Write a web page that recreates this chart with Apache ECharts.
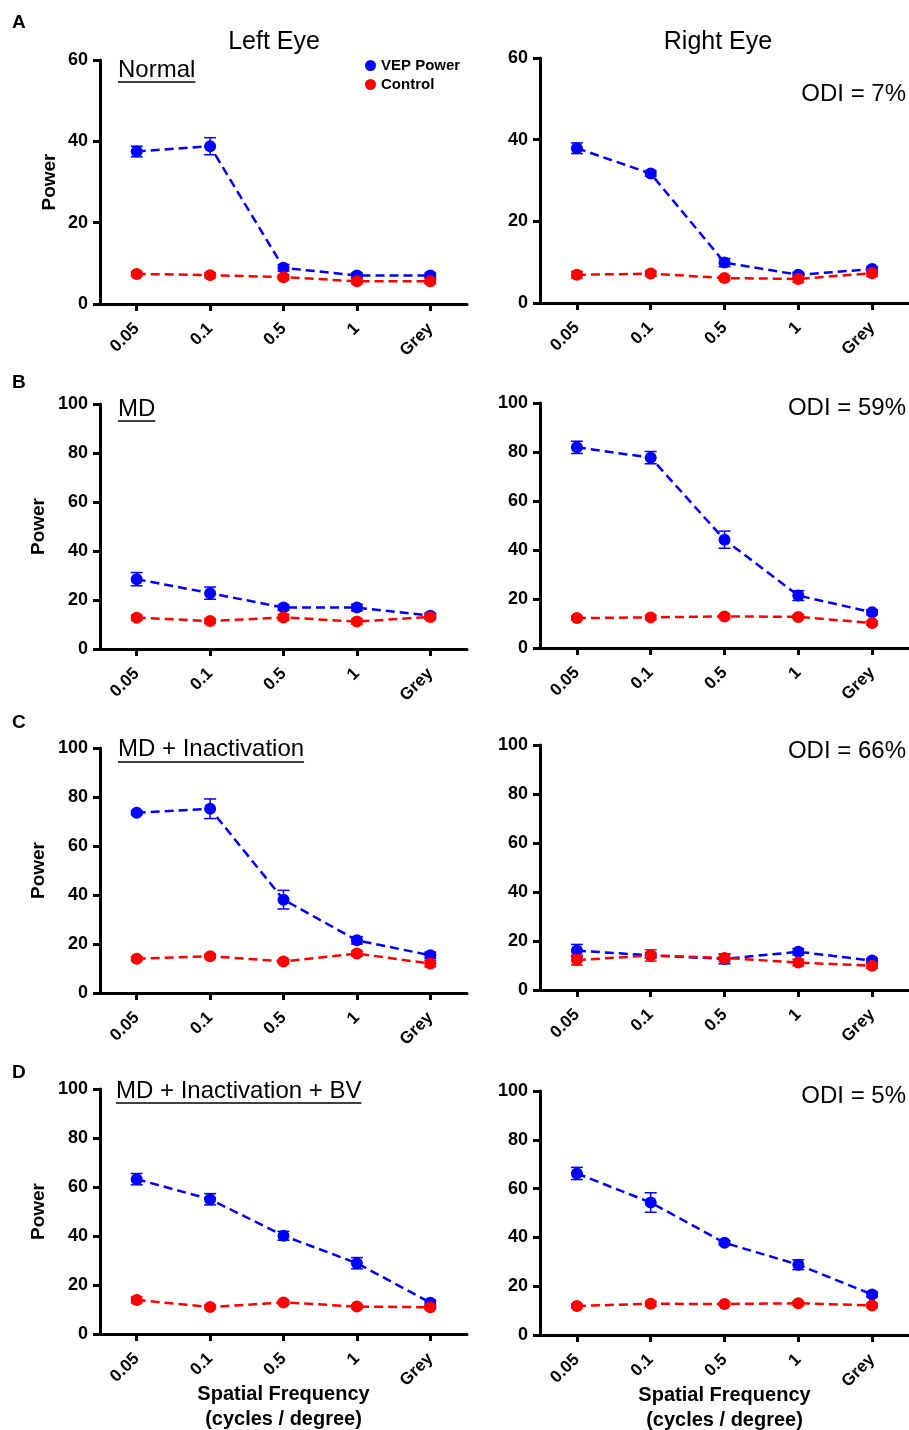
<!DOCTYPE html>
<html>
<head>
<meta charset="utf-8">
<script src="https://cdn.jsdelivr.net/npm/echarts@6/dist/echarts.min.js"></script>
<style>
  html, body { margin: 0; padding: 0; background: #fff; }
  #chart { width: 909px; height: 1430px; }
</style>
</head>
<body>
<div id="chart"></div>
<script>
// Spatial-frequency categories shared by every panel
const categories = ['0.05', '0.1', '0.5', '1', 'Grey'];

// A: Normal
const normalLeftVep      = [37.5, 38.8, 8.9, 7.0, 7.0];
const normalLeftVepErr   = [1.3, 2.1, 0.8, 0.6, 0.6];
const normalLeftCtrl     = [7.4, 7.1, 6.6, 5.6, 5.6];
const normalLeftCtrlErr  = [0.6, 0.6, 0.6, 0.6, 0.6];
const normalRightVep     = [37.9, 31.7, 9.9, 6.9, 8.3];
const normalRightVepErr  = [1.3, 0.6, 1.0, 0.6, 0.6];
const normalRightCtrl    = [6.9, 7.2, 6.1, 5.9, 7.3];
const normalRightCtrlErr = [0.8, 0.6, 0.6, 0.8, 0.8];

// B: MD
const mdLeftVep      = [28.5, 22.8, 16.9, 16.9, 13.6];
const mdLeftVepErr   = [2.7, 2.5, 1.0, 1.3, 1.0];
const mdLeftCtrl     = [12.8, 11.4, 12.9, 11.2, 13.1];
const mdLeftCtrlErr  = [1.0, 1.0, 1.2, 1.0, 1.0];
const mdRightVep     = [81.9, 77.7, 44.2, 21.4, 14.6];
const mdRightVepErr  = [2.5, 2.5, 3.5, 2.0, 1.0];
const mdRightCtrl    = [12.2, 12.5, 12.9, 12.7, 10.2];
const mdRightCtrlErr = [0.8, 0.8, 0.8, 0.8, 0.8];

// C: MD + Inactivation
const inactLeftVep      = [73.6, 75.2, 38.1, 21.5, 15.4];
const inactLeftVepErr   = [0.8, 4.0, 3.8, 1.5, 1.3];
const inactLeftCtrl     = [14.0, 15.0, 12.9, 16.1, 12.0];
const inactLeftCtrlErr  = [0.8, 0.8, 0.8, 1.0, 1.3];
const inactRightVep     = [16.1, 14.1, 12.7, 15.6, 12.0];
const inactRightVepErr  = [2.5, 1.0, 2.0, 1.3, 0.8];
const inactRightCtrl    = [12.2, 14.1, 13.1, 11.2, 9.9];
const inactRightCtrlErr = [2.0, 2.3, 1.5, 1.3, 1.0];

// D: MD + Inactivation + BV
const bvLeftVep      = [63.2, 55.0, 40.1, 28.9, 12.8];
const bvLeftVepErr   = [2.3, 2.3, 1.8, 2.3, 1.0];
const bvLeftCtrl     = [13.9, 11.0, 12.9, 11.2, 10.9];
const bvLeftCtrlErr  = [1.2, 0.8, 0.8, 0.8, 0.8];
const bvRightVep     = [66.2, 54.3, 37.8, 28.8, 16.6];
const bvRightVepErr  = [2.5, 4.0, 0.8, 2.0, 1.0];
const bvRightCtrl    = [11.9, 12.8, 12.7, 13.0, 12.1];
const bvRightCtrlErr = [0.8, 1.0, 0.8, 0.8, 0.8];

// Axis ranges and panel texts
const axisMax      = [60, 60, 100, 100, 100, 100, 100, 100];
const axisInterval = [20, 20, 20, 20, 20, 20, 20, 20];
const panelLetters = ['A', 'B', 'C', 'D'];
const conditions   = ['Normal', 'MD', 'MD + Inactivation', 'MD + Inactivation + BV'];
const odiLabels    = ['ODI = 7%', 'ODI = 59%', 'ODI = 66%', 'ODI = 5%'];
const eyeTitles    = ['Left Eye', 'Right Eye'];
const seriesNames  = ['VEP Power', 'Control'];
const yAxisName    = 'Power';
const xAxisName    = 'Spatial Frequency\n(cycles / degree)';

const panelData = [
  [normalLeftVep, normalLeftVepErr, normalLeftCtrl, normalLeftCtrlErr],
  [normalRightVep, normalRightVepErr, normalRightCtrl, normalRightCtrlErr],
  [mdLeftVep, mdLeftVepErr, mdLeftCtrl, mdLeftCtrlErr],
  [mdRightVep, mdRightVepErr, mdRightCtrl, mdRightCtrlErr],
  [inactLeftVep, inactLeftVepErr, inactLeftCtrl, inactLeftCtrlErr],
  [inactRightVep, inactRightVepErr, inactRightCtrl, inactRightCtrlErr],
  [bvLeftVep, bvLeftVepErr, bvLeftCtrl, bvLeftCtrlErr],
  [bvRightVep, bvRightVepErr, bvRightCtrl, bvRightCtrlErr]
];

// Layout (pixels)
const gridBoxes = [
  { left: 100, top: 60,   width: 367, height: 244 },
  { left: 540, top: 58,   width: 369, height: 245 },
  { left: 100, top: 404,  width: 367, height: 245 },
  { left: 540, top: 403,  width: 369, height: 245 },
  { left: 100, top: 748,  width: 367, height: 245 },
  { left: 540, top: 745,  width: 369, height: 245 },
  { left: 100, top: 1089, width: 367, height: 245 },
  { left: 540, top: 1091, width: 369, height: 244 }
];
const FONT = "'Liberation Sans', Arial, Helvetica, sans-serif";
const BLUE = '#0000ff';
const RED = '#ff0000';

function errorBars(idx, means, errs, color, z) {
  return {
    type: 'custom',
    xAxisIndex: idx,
    yAxisIndex: idx,
    z: z,
    silent: true,
    data: means.map((m, i) => [i, m - errs[i], m + errs[i]]),
    encode: { x: 0, y: [1, 2] },
    renderItem: function (params, api) {
      const i = api.value(0);
      const lo = api.coord([i, api.value(1)]);
      const hi = api.coord([i, api.value(2)]);
      const half = 6;
      const style = { stroke: color, lineWidth: 1.5, fill: null };
      return {
        type: 'group',
        children: [
          { type: 'line', shape: { x1: lo[0], y1: lo[1], x2: hi[0], y2: hi[1] }, style: style },
          { type: 'line', shape: { x1: lo[0] - half, y1: lo[1], x2: lo[0] + half, y2: lo[1] }, style: style },
          { type: 'line', shape: { x1: hi[0] - half, y1: hi[1], x2: hi[0] + half, y2: hi[1] }, style: style }
        ]
      };
    }
  };
}

function lineSeries(idx, name, values, color, z) {
  return {
    type: 'line',
    name: name,
    xAxisIndex: idx,
    yAxisIndex: idx,
    z: z,
    data: values,
    symbol: 'circle',
    symbolSize: 12,
    lineStyle: { color: color, width: 2.5, type: [9, 5] },
    itemStyle: { color: color },
    emphasis: { disabled: true }
  };
}

const grids = [], xAxes = [], yAxes = [], series = [];
gridBoxes.forEach((box, idx) => {
  const isLeft = idx % 2 === 0;
  const isBottom = idx >= 6;
  grids.push(Object.assign({ containLabel: false, outerBoundsMode: 'none' }, box));
  xAxes.push({
    type: 'category',
    gridIndex: idx,
    data: categories,
    boundaryGap: true,
    axisLine: { show: true, lineStyle: { color: '#000', width: 3 } },
    axisTick: { show: true, alignWithLabel: true, length: 7, lineStyle: { color: '#000', width: 3 } },
    axisLabel: { rotate: 45, margin: 22, fontSize: 17, fontWeight: 'bold', color: '#000', fontFamily: FONT, interval: 0 },
    splitLine: { show: false },
    name: isBottom ? xAxisName : '',
    nameLocation: 'middle',
    nameGap: 48,
    nameMoveOverlap: false,
    nameTextStyle: { fontSize: 20, fontWeight: 'bold', color: '#000', fontFamily: FONT, lineHeight: 25 }
  });
  yAxes.push({
    type: 'value',
    gridIndex: idx,
    min: 0,
    max: axisMax[idx],
    interval: axisInterval[idx],
    axisLine: { show: true, lineStyle: { color: '#000', width: 3 } },
    axisTick: { show: true, length: 7, lineStyle: { color: '#000', width: 3 } },
    axisLabel: { margin: 12, fontSize: 18, fontWeight: 'bold', color: '#000', fontFamily: FONT },
    splitLine: { show: false },
    name: isLeft ? yAxisName : '',
    nameLocation: 'middle',
    nameGap: idx === 0 ? 41 : 52,
    nameMoveOverlap: false,
    nameTextStyle: { fontSize: 19, fontWeight: 'bold', color: '#000', fontFamily: FONT }
  });
  const [vep, vepErr, ctrl, ctrlErr] = panelData[idx];
  series.push(errorBars(idx, vep, vepErr, BLUE, 2));
  series.push(lineSeries(idx, seriesNames[0], vep, BLUE, 3));
  series.push(errorBars(idx, ctrl, ctrlErr, RED, 4));
  series.push(lineSeries(idx, seriesNames[1], ctrl, RED, 5));
});

// Text measurement for condition underlines
const measureCtx = document.createElement('canvas').getContext('2d');
function textWidth(str, font) {
  measureCtx.font = font;
  return measureCtx.measureText(str).width;
}

const graphics = [];
const letterY = [23, 383, 723, 1073];
const condY = [70.5, 409, 749, 1091];
const underlineY = [82, 421, 762, 1103];
const odiY = [94, 408, 751, 1096];
const condFont = '24px ' + FONT;

eyeTitles.forEach((t, i) => {
  graphics.push({
    type: 'text', x: i === 0 ? 274 : 718, y: 42,
    style: { text: t, font: '25px ' + FONT, fill: '#000', textAlign: 'center', textVerticalAlign: 'middle' }
  });
});

panelLetters.forEach((l, i) => {
  graphics.push({
    type: 'text', x: 12, y: letterY[i],
    style: { text: l, font: 'bold 19px ' + FONT, fill: '#000', textAlign: 'left', textVerticalAlign: 'middle' }
  });
  const cx = i === 3 ? 116 : 118;
  graphics.push({
    type: 'text', x: cx, y: condY[i],
    style: { text: conditions[i], font: condFont, fill: '#000', textAlign: 'left', textVerticalAlign: 'middle' }
  });
  graphics.push({
    type: 'line',
    shape: { x1: cx, y1: underlineY[i], x2: cx + textWidth(conditions[i], condFont), y2: underlineY[i] },
    style: { stroke: '#000', lineWidth: 1.5 }
  });
  graphics.push({
    type: 'text', x: 906, y: odiY[i],
    style: { text: odiLabels[i], font: '24px ' + FONT, fill: '#000', textAlign: 'right', textVerticalAlign: 'middle' }
  });
});

const chart = echarts.init(document.getElementById('chart'), null, { renderer: 'canvas' });
chart.setOption({
  animation: false,
  backgroundColor: '#fff',
  textStyle: { fontFamily: FONT },
  grid: grids,
  xAxis: xAxes,
  yAxis: yAxes,
  legend: {
    data: seriesNames,
    orient: 'vertical',
    left: 365,
    top: 58,
    padding: 0,
    icon: 'circle',
    itemWidth: 11,
    itemHeight: 11,
    itemGap: 4,
    selectedMode: false,
    textStyle: { fontSize: 15, lineHeight: 15, fontWeight: 'bold', color: '#000', fontFamily: FONT, padding: 0 }
  },
  series: series,
  graphic: graphics
});
</script>
</body>
</html>
